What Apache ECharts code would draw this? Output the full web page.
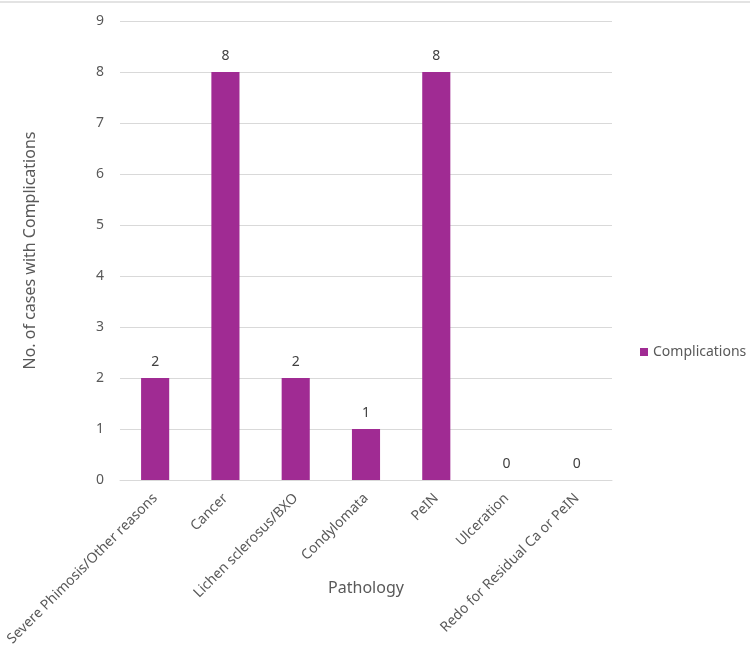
<!DOCTYPE html>
<html>
<head>
<meta charset="utf-8">
<script src="https://cdn.jsdelivr.net/npm/echarts@6/dist/echarts.min.js"></script>
<style>
    html, body { margin: 0; padding: 0; background: #fff; }
    #chart { width: 750px; height: 650px; }
</style>
</head>
<body>
<div id="chart"></div>
<script>
const categories = [
    'Severe Phimosis/Other reasons',
    'Cancer',
    'Lichen sclerosus/BXO',
    'Condylomata',
    'PeIN',
    'Ulceration',
    'Redo for Residual Ca or PeIN'
];
const complications = [2, 8, 2, 1, 8, 0, 0];

const textColor = '#595959';
const fontFamily = '"Noto Sans", sans-serif';

const chart = echarts.init(document.getElementById('chart'));
const option = {
    textStyle: { fontFamily: fontFamily },
    grid: {
        left: 120,
        right: 138,
        top: 21,
        bottom: 170,
        outerBoundsMode: 'none'
    },
    legend: {
        left: 635,
        top: 340,
        icon: 'rect',
        itemWidth: 8,
        itemHeight: 8,
        itemGap: 4,
        textStyle: { color: textColor, fontSize: 14, fontFamily: fontFamily },
        data: ['Complications']
    },
    graphic: [{
        type: 'line',
        shape: { x1: 0, y1: 2, x2: 750, y2: 2 },
        style: { stroke: '#e3e3e3', lineWidth: 2 }
    }],
    xAxis: {
        type: 'category',
        data: categories,
        name: 'Pathology',
        nameLocation: 'middle',
        nameGap: 100,
        nameMoveOverlap: false,
        nameTextStyle: { color: textColor, fontSize: 16 },
        axisLine: { lineStyle: { color: '#d9d9d9' } },
        axisTick: { show: false },
        axisLabel: {
            interval: 0,
            rotate: 45,
            color: textColor,
            fontSize: 14,
            margin: 16
        }
    },
    yAxis: {
        type: 'value',
        min: 0,
        max: 9,
        interval: 1,
        name: 'No. of cases with Complications',
        nameLocation: 'middle',
        nameGap: 82,
        nameMoveOverlap: false,
        nameTextStyle: { color: textColor, fontSize: 16 },
        axisLine: { show: false },
        axisTick: { show: false },
        axisLabel: { color: textColor, fontSize: 14, margin: 16 },
        splitLine: { lineStyle: { color: '#d9d9d9' } }
    },
    series: [{
        name: 'Complications',
        type: 'bar',
        data: complications,
        barWidth: '40%',
        itemStyle: { color: '#a02b93' },
        label: {
            show: true,
            position: 'top',
            distance: 9,
            color: '#404040',
            fontSize: 14
        }
    }]
};
chart.setOption(option);
</script>
</body>
</html>
